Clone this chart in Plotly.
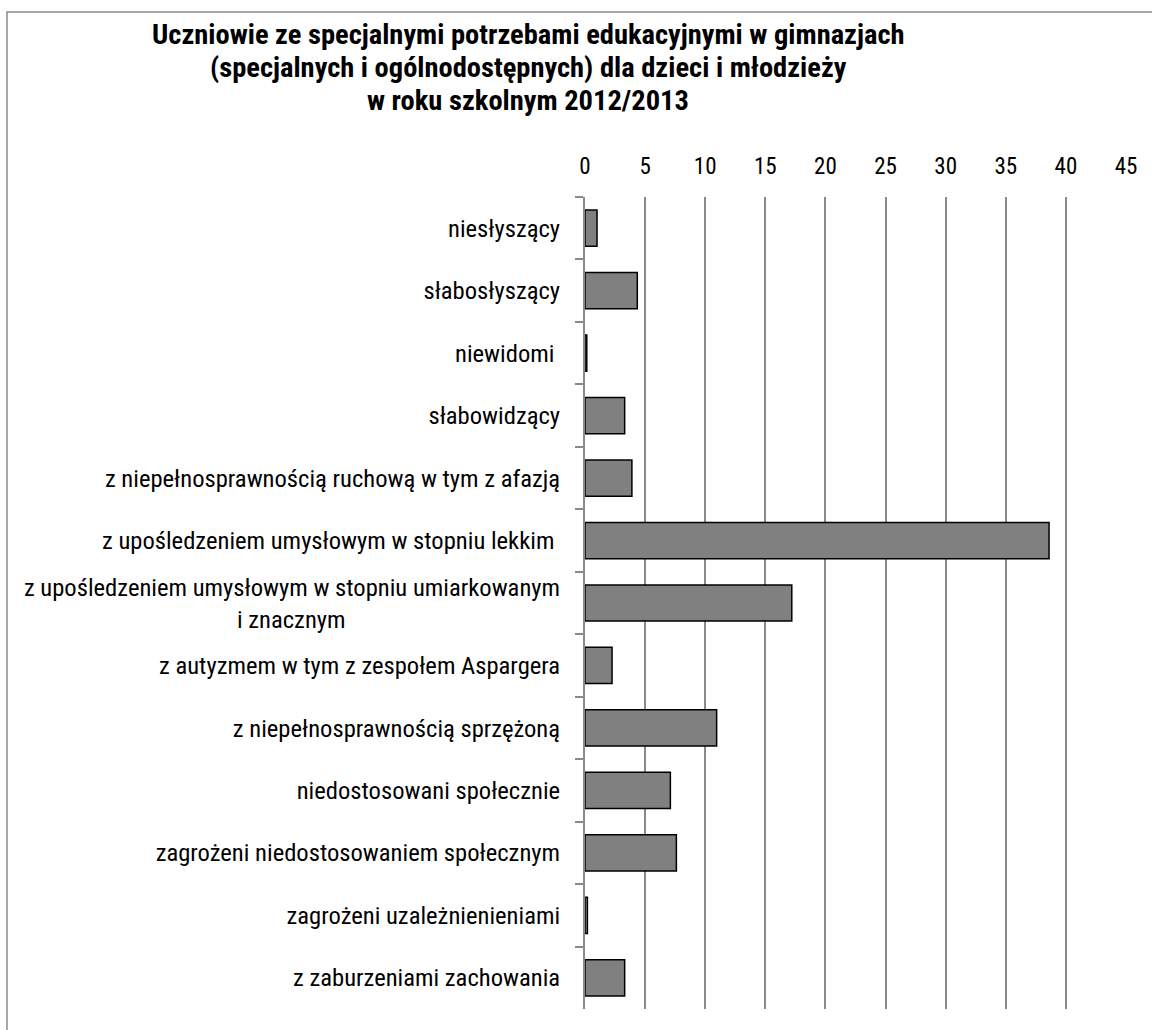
import plotly.graph_objects as go

categories = [
    "niesłyszący",
    "słabosłyszący",
    "niewidomi\u00a0",
    "słabowidzący",
    "z niepełnosprawnością ruchową w tym z afazją",
    "z upośledzeniem umysłowym w stopniu lekkim\u00a0",
    "z upośledzeniem umysłowym w stopniu umiarkowanym<br>i znacznym" + "\u00a0" * 38,
    "z autyzmem w tym z zespołem Aspargera",
    "z niepełnosprawnością sprzężoną",
    "niedostosowani społecznie",
    "zagrożeni niedostosowaniem społecznym",
    "zagrożeni uzależnienieniami",
    "z zaburzeniami zachowania",
]
values = [1.0, 4.35, 0.15, 3.3, 3.9, 38.6, 17.2, 2.25, 10.95, 7.1, 7.6, 0.2, 3.3]
x_ticks = [0, 5, 10, 15, 20, 25, 30, 35, 40, 45]

title_lines = [
    "Uczniowie ze specjalnymi potrzebami edukacyjnymi w gimnazjach",
    "(specjalnych i ogólnodostępnych) dla dzieci i młodzieży",
    "w roku szkolnym 2012/2013",
]

FONT = "Roboto Condensed, Liberation Sans, Arial, sans-serif"

fig = go.Figure(go.Bar(
    x=values, y=categories, orientation="h",
    marker=dict(color="#808080", line=dict(color="#000000", width=1.5)),
    width=0.58,
))

W, H = 1152, 1030
L, R, T, B = 585, 26, 197, 21
PW, PH = W - L - R, H - T - B


def px(xp):
    return (xp - L) / PW


def py(yp):
    return (H - B - yp) / PH


title_y = [35, 68, 101]
annotations = [
    dict(
        text="<b>" + line + "</b>", xref="paper", yref="paper",
        x=px(528), y=py(yy), xanchor="center", yanchor="middle", showarrow=False,
        font=dict(family=FONT, size=28.5, color="#000000"),
    )
    for line, yy in zip(title_lines, title_y)
]

fig.update_layout(
    width=W, height=H,
    margin=dict(l=L, r=R, t=T, b=B),
    paper_bgcolor="white", plot_bgcolor="white",
    font=dict(family=FONT, color="#000000", size=23),
    showlegend=False,
    annotations=annotations,
    shapes=[dict(
        type="rect", xref="paper", yref="paper",
        x0=px(7), x1=px(1170), y0=py(1050), y1=py(12),
        line=dict(color="#8c8c8c", width=1.5), fillcolor="rgba(0,0,0,0)",
        layer="below",
    )],
)

fig.update_xaxes(
    side="top", range=[0, 45], tickvals=x_ticks, ticktext=[str(v) for v in x_ticks],
    showgrid=True, gridcolor="#8a8a8a", gridwidth=1.5,
    showline=False, zeroline=False, ticks="", ticklabelstandoff=17,
    tickfont=dict(family=FONT, size=23, color="#000000"),
)
fig.update_yaxes(
    type="category", categoryorder="array", categoryarray=categories,
    autorange="reversed",
    showline=True, linecolor="#8a8a8a", linewidth=2,
    ticks="outside", tickson="boundaries", ticklen=8, tickcolor="#8a8a8a", tickwidth=1.5,
    showgrid=False, ticklabelstandoff=18,
    tickfont=dict(family=FONT, size=24.6, color="#000000"),
)

fig.write_html("out.html", config={"displayModeBar": False},
               post_script="document.body.style.margin='0';")
